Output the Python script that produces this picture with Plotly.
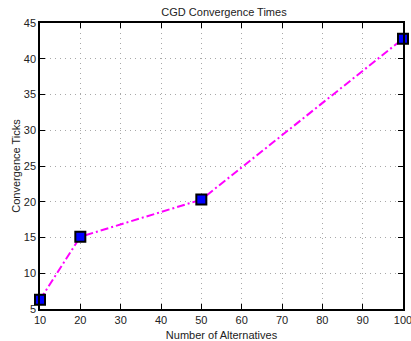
import plotly.graph_objects as go

alternatives = [10, 20, 50, 100]
ticks = [6.3, 15.1, 20.3, 42.8]
x_tick_vals = [10, 20, 30, 40, 50, 60, 70, 80, 90, 100]
y_tick_vals = [5, 10, 15, 20, 25, 30, 35, 40, 45]

fig = go.Figure()
fig.add_trace(go.Scatter(
    x=alternatives, y=ticks, mode="lines+markers",
    line=dict(color="#ff00ff", width=2, dash="8px,3px,2px,3px"),
    marker=dict(symbol="square", size=10, color="#0000ff",
                line=dict(color="black", width=2)),
    cliponaxis=False,
))

font = "Liberation Sans, Arial, sans-serif"
axis_common = dict(
    showline=True, linecolor="black", linewidth=1.5, mirror="ticks",
    ticks="inside", ticklen=5, tickcolor="black", tickwidth=1,
    showgrid=True, gridcolor="#a8a8a8", griddash="1px,4px", gridwidth=1,
    zeroline=False, tickfont=dict(family=font, size=11, color="#222"),
    automargin=False, ticklabeloverflow="allow",
)
fig.update_layout(
    width=411, height=341,
    margin=dict(l=40, r=8, t=23, b=32),
    paper_bgcolor="white", plot_bgcolor="white",
    showlegend=False,
    title=dict(text="CGD Convergence Times", x=0.545, xanchor="center",
               y=0.965, yanchor="middle",
               font=dict(family=font, size=11, color="#222")),
    xaxis=dict(range=[10, 100], tickvals=x_tick_vals,
               title=dict(text="Number of Alternatives", standoff=8,
                          font=dict(family=font, size=11, color="#222")),
               **axis_common),
    yaxis=dict(range=[5, 45], tickvals=y_tick_vals,
               title=dict(text="Convergence Ticks", standoff=1,
                          font=dict(family=font, size=11, color="#222")),
               **axis_common),
)
fig.write_html("out.html")
